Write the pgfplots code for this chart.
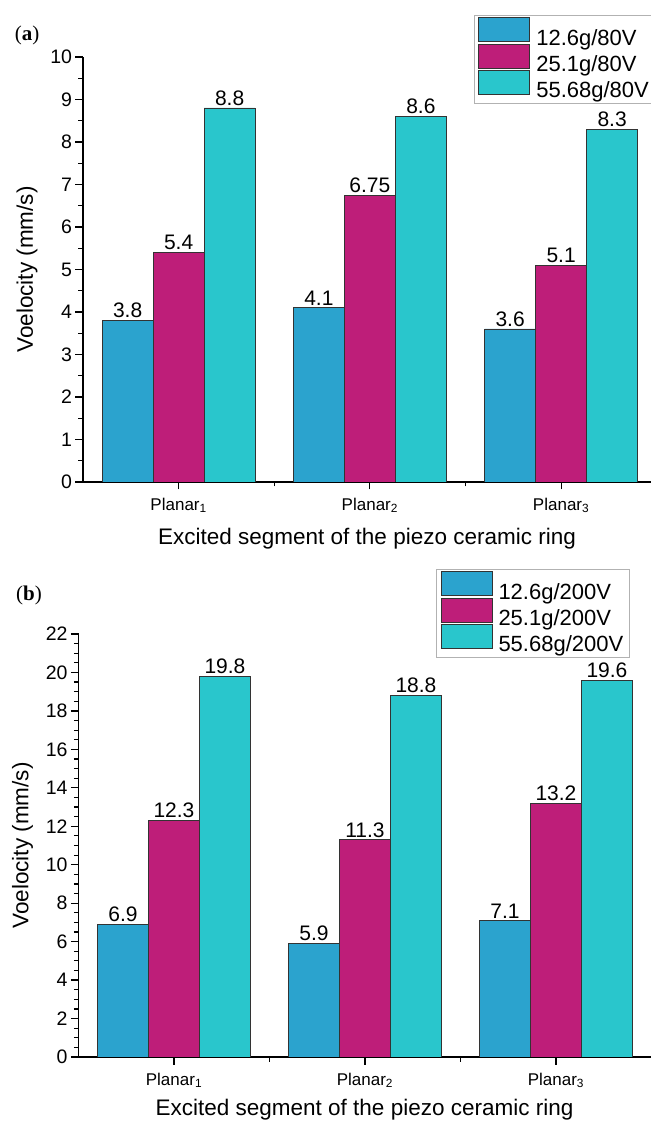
\documentclass[border=0pt]{standalone}
\usepackage{fontspec}
\setmainfont{Liberation Sans}
\newfontfamily\panelfont{Liberation Serif}
\usepackage{pgfplots}
\pgfplotsset{compat=1.18}

\definecolor{cBlue}{RGB}{43,163,206}
\definecolor{cMag}{RGB}{190,30,121}
\definecolor{cCyan}{RGB}{41,198,204}

\pgfplotsset{
  velbars/.style={
    scale only axis,
    axis x line=bottom, axis y line=left,
    axis line style={-, line width=1.3bp, black},
    ybar=0pt, bar width=51bp,
    xmin=0.5, ymin=0,
    xtick={1,2,3},
    xticklabels={Planar\textsubscript{1},Planar\textsubscript{2},Planar\textsubscript{3}},
    minor xtick={1.5,2.5,3.5},
    tick align=outside,
    major tick length=7.5bp, minor tick length=4.5bp,
    tick style={black, line width=1.2bp},
    /pgf/number format/assume math mode=true,
    yticklabel style={font=\fontsize{19.5bp}{23bp}\selectfont},
    xticklabel style={font=\fontsize{17bp}{20bp}\selectfont, yshift=-5bp},
    label style={font=\fontsize{22.5bp}{27bp}\selectfont},
    xlabel={Excited segment of the piezo ceramic ring},
    ylabel={Voelocity (mm/s)},
    nodes near coords,
    nodes near coords style={font=\fontsize{21bp}{25bp}\selectfont, anchor=south, inner sep=2bp, black},
    legend cell align=left,
    legend style={draw=gray!60, line width=1bp, fill=white,
      font=\fontsize{22bp}{26bp}\selectfont,
      inner xsep=4bp, inner ysep=2bp, row sep=-5bp, column sep=4bp,
      nodes={inner sep=2bp}, anchor=north west},
  },
  barA/.style={fill=cBlue, draw=black!80, line width=0.9bp},
  barB/.style={fill=cMag, draw=black!80, line width=0.9bp},
  barC/.style={fill=cCyan, draw=black!80, line width=0.9bp},
}

\begin{document}
\begin{tikzpicture}
\useasboundingbox (0bp,0bp) rectangle (651bp,1124bp);

% panel (a): 80 V drive
\begin{axis}[velbars,
  at={(83bp,642bp)}, anchor=origin,
  width=568bp, height=425bp,
  xmax=3.47, ymax=10, ytick distance=1, minor y tick num=1,
  legend style={at={(0.688,1.099)}},
  legend image code/.code={\draw[#1, line width=1bp, draw=black!80] (0bp,-4bp) rectangle (51bp,20bp);},
  xlabel style={at={(axis description cs:0.5,-0.134)}, anchor=center},
  ylabel style={at={(axis description cs:-0.0986,0.5)}, anchor=center},
]
\addplot[barA] coordinates {(1,3.8) (2,4.1) (3,3.6)};
\addplot[barB] coordinates {(1,5.4) (2,6.75) (3,5.1)};
\addplot[barC] coordinates {(1,8.8) (2,8.6) (3,8.3)};
\legend{12.6g/80V,25.1g/80V,55.68g/80V}
\end{axis}

% panel (b): 200 V drive
\begin{axis}[velbars,
  at={(78.5bp,67bp)}, anchor=origin,
  width=572bp, height=423bp,
  xmax=3.495, ymax=22, ytick distance=2, minor y tick num=3,
  legend style={at={(0.625,1.154)}},
  legend image code/.code={\draw[#1, line width=1bp, draw=black!80] (0bp,-4bp) rectangle (51bp,20bp);},
  xlabel style={at={(axis description cs:0.5,-0.125)}, anchor=center},
  ylabel style={at={(axis description cs:-0.0979,0.5)}, anchor=center},
]
\addplot[barA] coordinates {(1,6.9) (2,5.9) (3,7.1)};
\addplot[barB] coordinates {(1,12.3) (2,11.3) (3,13.2)};
\addplot[barC] coordinates {(1,19.8) (2,18.8) (3,19.6)};
\legend{12.6g/200V,25.1g/200V,55.68g/200V}
\end{axis}

\node[font=\panelfont\fontsize{21bp}{25bp}\selectfont, anchor=center] at (27bp,1089bp) {(\textbf{a})};
\node[font=\panelfont\fontsize{21bp}{25bp}\selectfont, anchor=center] at (29bp,529bp) {(\textbf{b})};
\end{tikzpicture}
\end{document}
